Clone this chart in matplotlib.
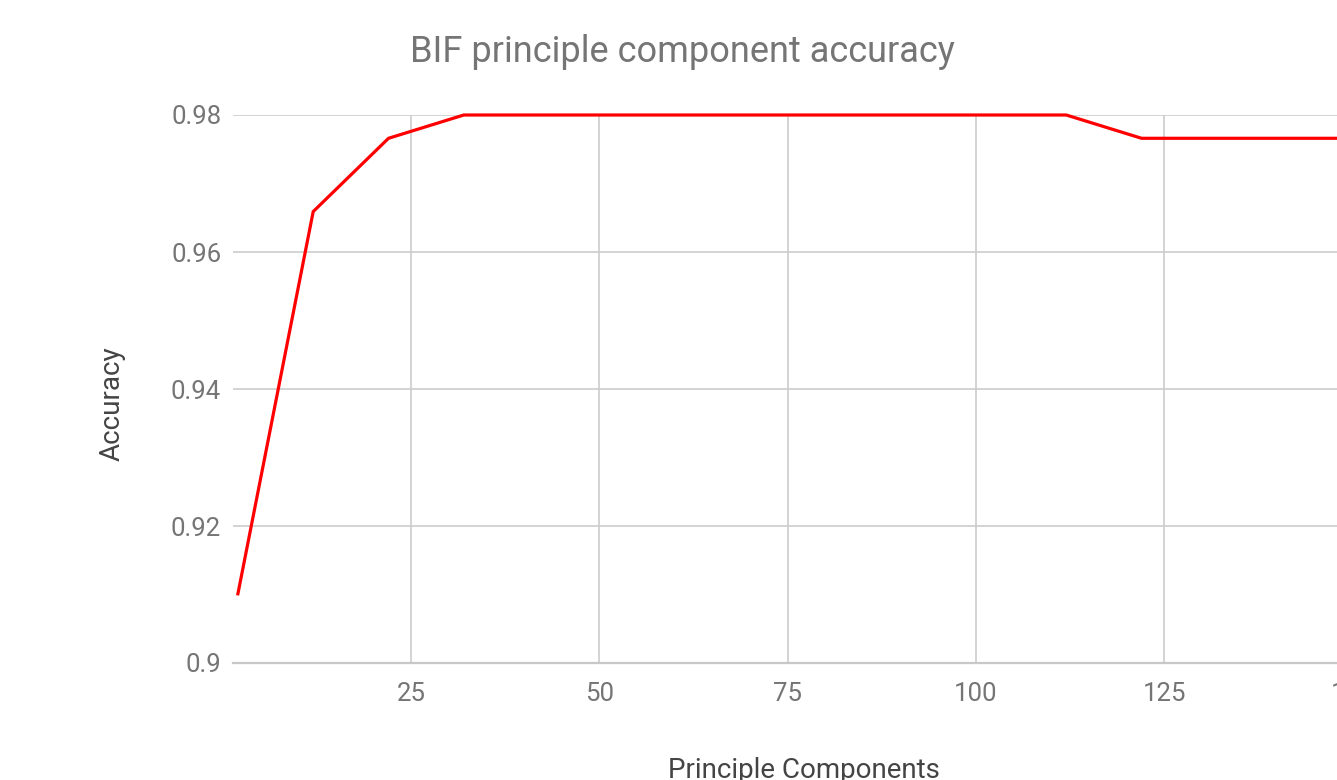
import matplotlib
matplotlib.use("Agg")
import matplotlib.pyplot as plt

plt.rcParams['font.family'] = ['Roboto', 'DejaVu Sans']

# number of principle components vs accuracy
components = [2, 12, 22, 32, 42, 52, 62, 72, 82, 92, 102, 112, 122, 132, 142, 152]
accuracy = [0.9101, 0.9659, 0.9766, 0.98, 0.98, 0.98, 0.98, 0.98, 0.98, 0.98,
            0.98, 0.98, 0.9766, 0.9766, 0.9766, 0.9766]
x_ticks = [25, 50, 75, 100, 125, 150]
y_ticks = [0.9, 0.92, 0.94, 0.96, 0.98]

W, H = 1337, 780
fig = plt.figure(figsize=(W / 100, H / 100), dpi=100)

# axes run past the right edge of the picture (the reference is cropped)
left, right = 233, 1375
top, bottom = 115, 663
ax = fig.add_axes([left / W, 1 - bottom / H, (right - left) / W, (bottom - top) / H])

ax.plot(components, accuracy, color='#ff0000', lw=2.3, solid_joinstyle='miter',
        clip_on=False, zorder=3)

ax.set_xlim(1.35, 153)
ax.set_ylim(0.9, 0.98)
ax.set_xticks(x_ticks)
ax.set_yticks(y_ticks)
ax.set_yticklabels(['0.9', '0.92', '0.94', '0.96', '0.98'])

ax.grid(True, color='#cccccc', lw=1.2)
ax.set_axisbelow(True)
for s in ['top', 'right', 'left']:
    ax.spines[s].set_visible(False)
ax.spines['bottom'].set_color('#c8c8c8')
ax.spines['bottom'].set_linewidth(1.6)
ax.tick_params(length=0, labelsize=18.5, labelcolor='#757575')
ax.tick_params(axis='x', pad=14)
ax.tick_params(axis='y', pad=8.5)

fig.text(682 / W, 1 - 62 / H, 'BIF principle component accuracy', ha='center',
         va='baseline', fontsize=26, color='#757575')
fig.text(112 / W, 1 - 404 / H, 'Accuracy', rotation=90, ha='center',
         va='center', fontsize=20, color='#444444')
fig.text(804 / W, 1 - 778 / H, 'Principle Components', ha='center',
         va='baseline', fontsize=20, color='#444444')

fig.savefig('out.png', dpi=100)
